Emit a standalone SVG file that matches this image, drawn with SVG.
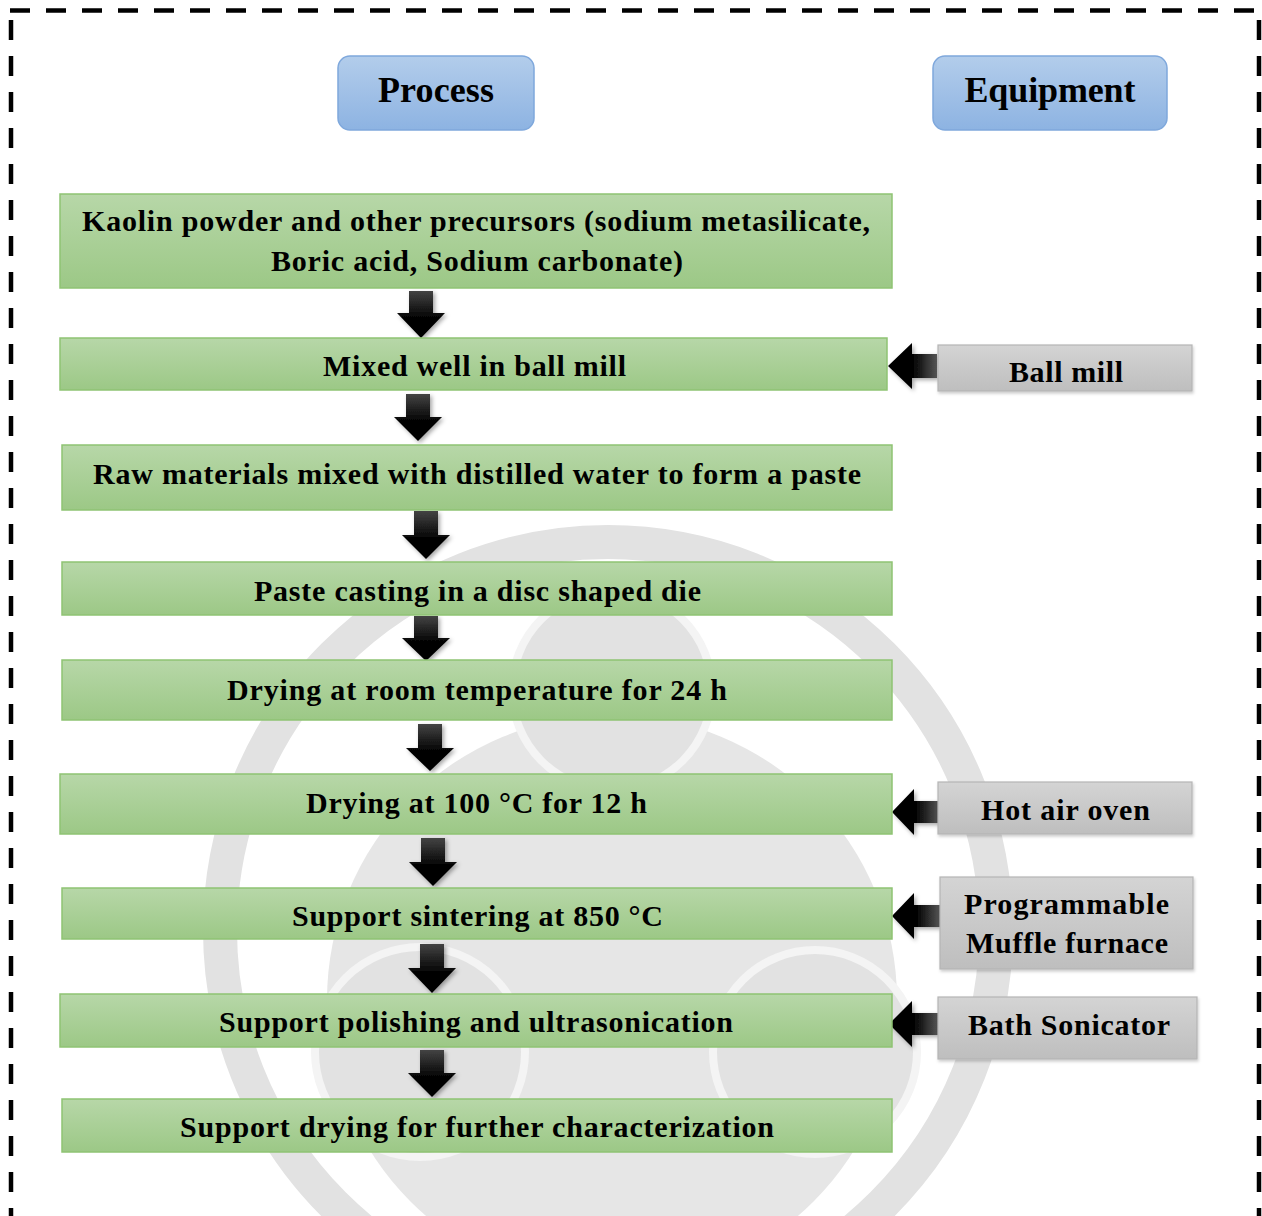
<svg xmlns="http://www.w3.org/2000/svg" width="1262" height="1216" viewBox="0 0 1262 1216">
<defs>
<linearGradient id="gGreen" x1="0" y1="0" x2="0" y2="1"><stop offset="0" stop-color="#b7d7a8"/><stop offset="1" stop-color="#9cc886"/></linearGradient>
<linearGradient id="gBlue" x1="0" y1="0" x2="0" y2="1"><stop offset="0" stop-color="#b3cdeb"/><stop offset="1" stop-color="#8db3e2"/></linearGradient>
<linearGradient id="gGray" x1="0" y1="0" x2="0" y2="1"><stop offset="0" stop-color="#d4d4d4"/><stop offset="1" stop-color="#bebebe"/></linearGradient>
<linearGradient id="gDown" x1="0" y1="0" x2="0" y2="1"><stop offset="0" stop-color="#444"/><stop offset="0.6" stop-color="#000"/><stop offset="1" stop-color="#000"/></linearGradient>
<linearGradient id="gLeft" x1="1" y1="0" x2="0" y2="0"><stop offset="0" stop-color="#555"/><stop offset="0.5" stop-color="#000"/><stop offset="1" stop-color="#000"/></linearGradient>
<filter id="sh" x="-30%" y="-30%" width="160%" height="160%"><feDropShadow dx="2" dy="2" stdDeviation="2" flood-color="#000" flood-opacity="0.35"/></filter>
<filter id="shb" x="-10%" y="-10%" width="120%" height="130%"><feDropShadow dx="1" dy="2" stdDeviation="1.5" flood-color="#000" flood-opacity="0.2"/></filter>
</defs>
<style>
.t{font-family:"Liberation Serif","Times New Roman",serif;font-weight:bold;fill:#000;text-anchor:middle}
.h{font-size:36px}
.p{font-size:30px}
.e{font-size:30px}
.green{fill:url(#gGreen);stroke:#8fc373;stroke-width:1.5}
.blue{fill:url(#gBlue);stroke:#7fa8dc;stroke-width:1.5}
.gray{fill:url(#gGray);stroke:#b5b5b5;stroke-width:1.2}
.dn{fill:url(#gDown)}
.lf{fill:url(#gLeft)}
.wmr{fill:none;stroke:#e2e2e2}
.wmc{fill:#e2e2e2;stroke:#f4f4f4;stroke-width:8}
</style>
<rect width="1262" height="1216" fill="#fff"/>
<g id="watermark">
<circle cx="608" cy="930" r="388" class="wmr" stroke-width="34"/>
<circle cx="612" cy="1000" r="285" fill="#e6e6e6"/>
<circle cx="612" cy="690" r="100" class="wmc"/>
<circle cx="420" cy="1052" r="105" class="wmc"/>
<circle cx="815" cy="1052" r="102" class="wmc"/>
</g>
<g id="border" stroke="#000" stroke-width="4.5" fill="none">
<line x1="10" y1="10.5" x2="1259" y2="10.5" stroke-dasharray="20 16"/>
<line x1="11" y1="20" x2="11" y2="1216" stroke-dasharray="20 16"/>
<line x1="1259" y1="20" x2="1259" y2="1216" stroke-dasharray="20 16"/>
</g>
<g id="hdr-process"><rect x="338" y="56" width="196" height="74" rx="12" class="blue"/><text class="t h" x="436" y="102" textLength="116">Process</text></g>
<g id="hdr-equipment"><rect x="933" y="56" width="234" height="74" rx="12" class="blue"/><text class="t h" x="1050" y="102" textLength="171">Equipment</text></g>
<g id="connectors">
<path class="dn" filter="url(#sh)" d="M409 291H433V313H445L421 338L397 313H409Z"/>
<path class="dn" filter="url(#sh)" d="M406 394H430V417H442L418 441L394 417H406Z"/>
<path class="dn" filter="url(#sh)" d="M414 511H438V535H450L426 559L402 535H414Z"/>
<path class="dn" filter="url(#sh)" d="M414 616H438V638H450L426 661L402 638H414Z"/>
<path class="dn" filter="url(#sh)" d="M418 724H442V748H454L430 771L406 748H418Z"/>
<path class="dn" filter="url(#sh)" d="M421 838H445V862H457L433 886L409 862H421Z"/>
<path class="dn" filter="url(#sh)" d="M420 944H444V968H456L432 993L408 968H420Z"/>
<path class="dn" filter="url(#sh)" d="M420 1050H444V1073H456L432 1097L408 1073H420Z"/>
<path class="lf" filter="url(#sh)" d="M937 354V378H912V389L888 366L912 343V354Z"/>
<path class="lf" filter="url(#sh)" d="M939 801V823H914V835L892 812L914 789V801Z"/>
<path class="lf" filter="url(#sh)" d="M940 905V927H914V939L892 916L914 893V905Z"/>
<path class="lf" filter="url(#sh)" d="M938 1013V1035H912V1047L889 1024L912 1001V1013Z"/>
</g>
<g id="n1"><rect x="60" y="194" width="832" height="94" class="green"/><text class="t p" x="476" y="231" textLength="788">Kaolin powder and other precursors (sodium metasilicate,</text><text class="t p" x="477" y="271" textLength="412">Boric acid, Sodium carbonate)</text></g>
<g id="n2"><rect x="60" y="338" width="827" height="52" class="green"/><text class="t p" x="474.5" y="376" textLength="303">Mixed well in ball mill</text></g>
<g id="n3"><rect x="62" y="445" width="830" height="65" class="green"/><text class="t p" x="477" y="484" textLength="768">Raw materials mixed with distilled water to form a paste</text></g>
<g id="n4"><rect x="62" y="562" width="830" height="53" class="green"/><text class="t p" x="477.5" y="601" textLength="447">Paste casting in a disc shaped die</text></g>
<g id="n5"><rect x="62" y="660" width="830" height="60" class="green"/><text class="t p" x="477" y="700" textLength="500">Drying at room temperature for 24 h</text></g>
<g id="n6"><rect x="60" y="774" width="832" height="60" class="green"/><text class="t p" x="476.5" y="813" textLength="341">Drying at 100 °C for 12 h</text></g>
<g id="n7"><rect x="62" y="888" width="830" height="51" class="green"/><text class="t p" x="477.5" y="926" textLength="371">Support sintering at 850 °C</text></g>
<g id="n8"><rect x="60" y="994" width="832" height="53" class="green"/><text class="t p" x="476" y="1032" textLength="514">Support polishing and ultrasonication</text></g>
<g id="n9"><rect x="62" y="1099" width="830" height="53" class="green"/><text class="t p" x="477" y="1137" textLength="594">Support drying for further characterization</text></g>
<g id="e1"><rect x="938" y="345" width="254" height="46" class="gray" filter="url(#shb)"/><text class="t e" x="1066" y="382" textLength="114">Ball mill</text></g>
<g id="e2"><rect x="938" y="782" width="254" height="52" class="gray" filter="url(#shb)"/><text class="t e" x="1065.5" y="820" textLength="169">Hot air oven</text></g>
<g id="e3"><rect x="940" y="877" width="253" height="92" class="gray" filter="url(#shb)"/><text class="t e" x="1066.5" y="914" textLength="205">Programmable</text><text class="t e" x="1067" y="953" textLength="202">Muffle furnace</text></g>
<g id="e4"><rect x="938" y="997" width="259" height="62" class="gray" filter="url(#shb)"/><text class="t e" x="1069" y="1035" textLength="202">Bath Sonicator</text></g>
</svg>
